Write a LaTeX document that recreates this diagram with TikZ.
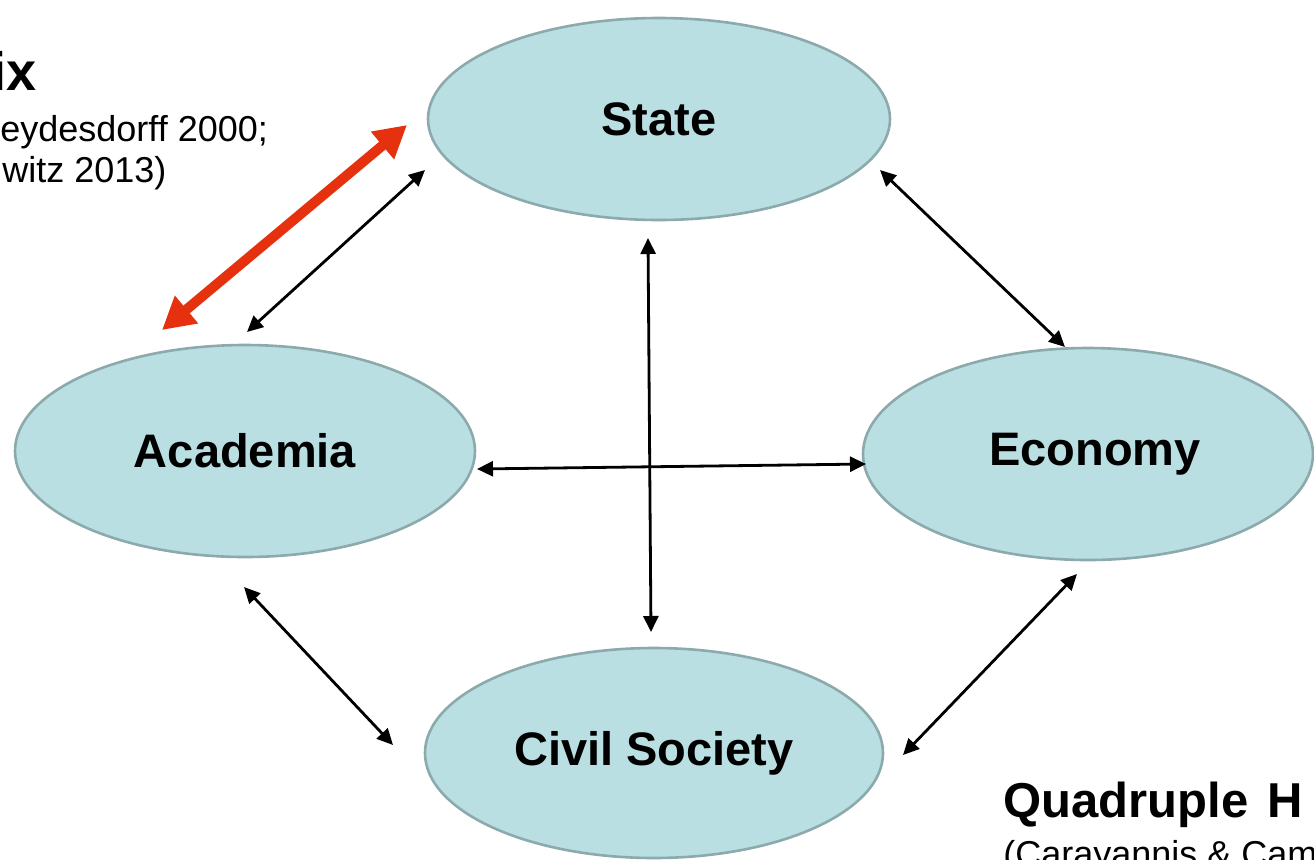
\documentclass[tikz,border=0pt]{standalone}
\usepackage{fontspec}
\setmainfont{Liberation Sans}
\usetikzlibrary{arrows.meta,shapes.geometric}
\definecolor{ellfill}{HTML}{B9DFE2}
\definecolor{elldraw}{HTML}{8CAAAC}
\definecolor{redarrow}{HTML}{E6310F}
\begin{document}
\begin{tikzpicture}[x=0.5pt,y=-0.5pt,
 ell/.style={ellipse,draw=elldraw,fill=ellfill,line width=1.3pt,inner sep=0pt,font=\fontsize{23.5}{28}\selectfont\bfseries},
 link/.style={line width=1.4pt,{Triangle[length=8pt,width=7.5pt]}-{Triangle[length=8pt,width=7.5pt]}},
 bigred/.style={draw=redarrow,line width=5pt,{Triangle[length=16pt,width=17pt]}-{Triangle[length=16pt,width=17pt]}},
 small/.style={font=\fontsize{18}{20}\selectfont,inner sep=0pt},
 heading/.style={font=\fontsize{24.5}{28}\selectfont\bfseries,inner sep=0pt}]
\useasboundingbox (0,0) rectangle (1314,859);
\clip (0,0) rectangle (1314,859);
% ellipses
\node[ell,minimum width=231pt,minimum height=101pt] (state) at (659,119) {State};
\node[ell,minimum width=230pt,minimum height=106pt] (acad) at (245,451) {Academia};
\node[ell,minimum width=225pt,minimum height=106pt] (econ) at (1088,454) {\hspace*{7pt}Economy};
\node[ell,minimum width=229pt,minimum height=105pt] (civil) at (654,753) {Civil Society};
% arrow end points
\coordinate (a1) at (247,332); \coordinate (s1) at (425,170);
\coordinate (s2) at (880,170); \coordinate (e1) at (1065,347);
\coordinate (s3) at (648,238); \coordinate (c1) at (651,632);
\coordinate (a2) at (477,469); \coordinate (e2) at (866,464);
\coordinate (a3) at (244,587); \coordinate (c2) at (393,745);
\coordinate (e3) at (1077,574); \coordinate (c3) at (903,755);
\coordinate (r1) at (162,330); \coordinate (r2) at (407,125);
% connectors
\draw[link] (a1) -- (s1);
\draw[link] (s2) -- (e1);
\draw[link] (s3) -- (c1);
\draw[link] (a2) -- (e2);
\draw[link] (a3) -- (c2);
\draw[link] (e3) -- (c3);
\draw[bigred] (r1) -- (r2);
% texts
\node[heading,font=\fontsize{27}{30}\selectfont\bfseries,anchor=base east] (title1) at (37,90) {ix};
\node[small,anchor=base west] (ref1a) at (0,141) {eydesdorff 2000;};
\node[small,anchor=base west] (ref1b) at (2,182) {witz 2013)};
\node[heading,anchor=base west] (title2) at (1003,817) {Quadruple\hspace{2.5pt} H};
\node[small,anchor=base west] (ref2) at (1003,866) {(Carayannis \& Cam};
\end{tikzpicture}
\end{document}
